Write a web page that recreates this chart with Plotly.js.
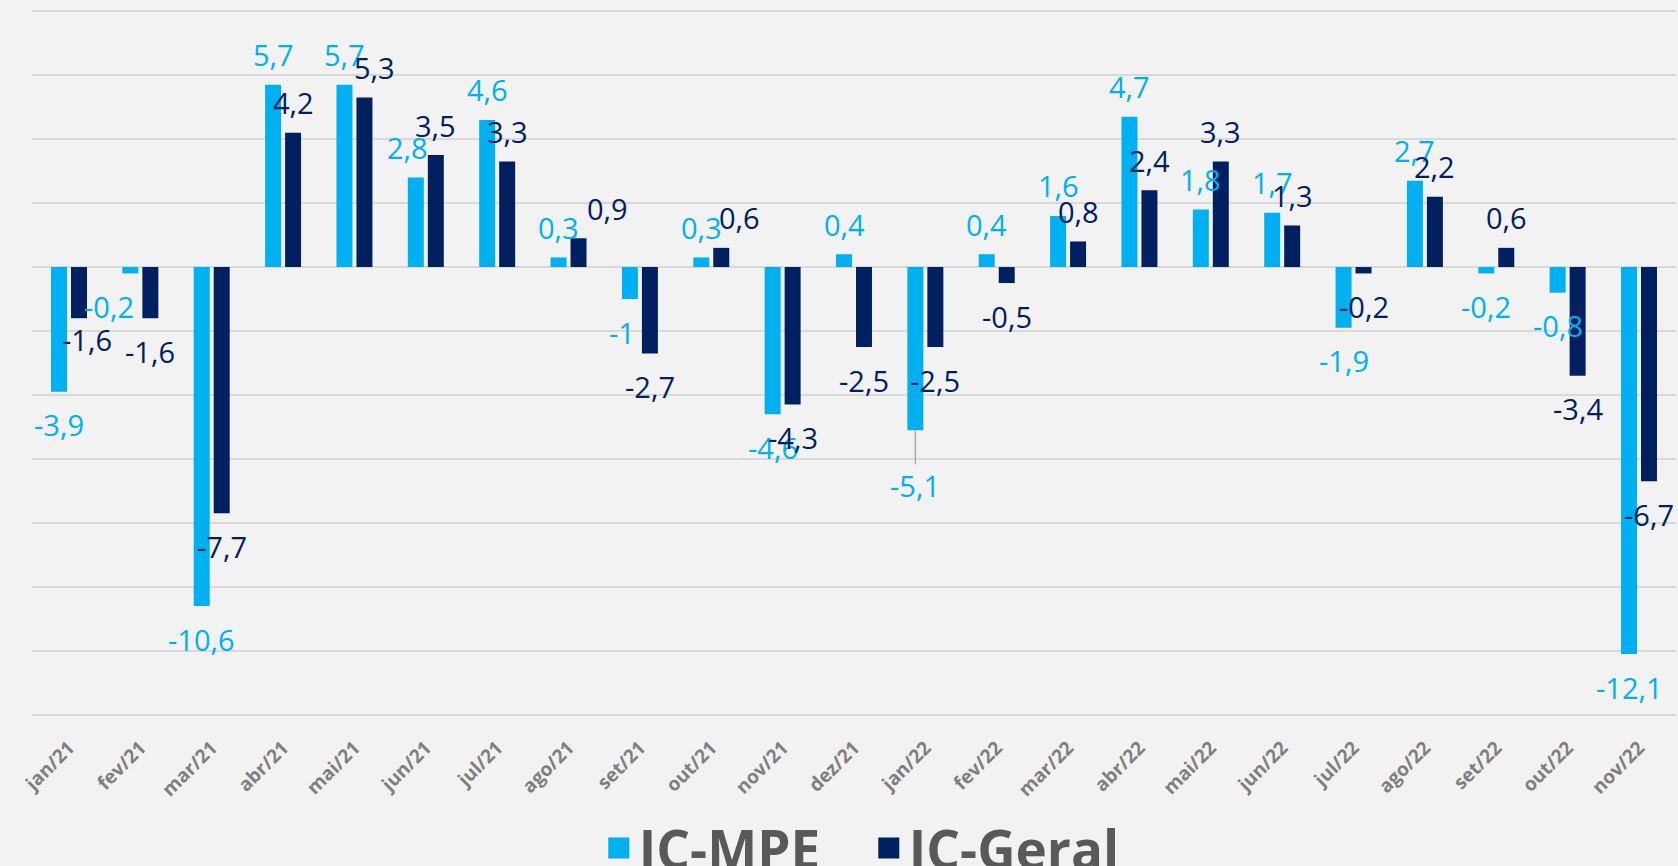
<!DOCTYPE html>
<html>
<head>
<meta charset="utf-8">
<script src="https://cdn.plot.ly/plotly-3.0.1.min.js"></script>
<style>
  html, body { margin: 0; padding: 0; background: #f2f2f2; }
  #chart { width: 1678px; height: 866px; }
</style>
</head>
<body>
<div id="chart"></div>
<script>
const categories = ["jan/21","fev/21","mar/21","abr/21","mai/21","jun/21","jul/21","ago/21","set/21","out/21","nov/21","dez/21",
                    "jan/22","fev/22","mar/22","abr/22","mai/22","jun/22","jul/22","ago/22","set/22","out/22","nov/22"];
const icMPE   = [-3.9,-0.2,-10.6,5.7,5.7,2.8,4.6,0.3,-1,0.3,-4.6,0.4,-5.1,0.4,1.6,4.7,1.8,1.7,-1.9,2.7,-0.2,-0.8,-12.1];
const icGeral = [-1.6,-1.6,-7.7,4.2,5.3,3.5,3.3,0.9,-2.7,0.6,-4.3,-2.5,-2.5,-0.5,0.8,2.4,3.3,1.3,-0.2,2.2,0.6,-3.4,-6.7];
const seriesNames = ["IC-MPE", "IC-Geral"];

// label styling nudges (pixels), by category index
const nudgeMPE   = {1: [-21, 0], 5: [-8, 0], 8: [-8, 0]};
const nudgeGeral = {0: [8, 12], 4: [10, 0], 7: [29, 0], 9: [18, 0]};
const leaderMPE  = {12: 55};

const cLight = "#00b0f0", cDark = "#002060";
const fmt = v => String(v).replace(".", ",");

const traces = [
  {type: "bar", name: seriesNames[0], x: categories, y: icMPE, marker: {color: cLight}, showlegend: false},
  {type: "bar", name: seriesNames[1], x: categories, y: icGeral, marker: {color: cDark}, showlegend: false},
  // legend keys (larger square symbols than the default bar key)
  {type: "scatter", mode: "markers", name: seriesNames[0], x: [null], y: [null],
   marker: {symbol: "square", size: 16, color: cLight, line: {width: 5, color: cLight}}},
  {type: "scatter", mode: "markers", name: seriesNames[1], x: [null], y: [null],
   marker: {symbol: "square", size: 16, color: cDark, line: {width: 5, color: cDark}}}
];

const annotations = [];
function addLabels(vals, color, baseShift, nudges, leaders) {
  vals.forEach((v, i) => {
    const n = nudges[i] || [0, 0];
    const a = {
      x: categories[i], y: v, xref: "x", yref: "y",
      text: fmt(v),
      font: {family: "Open Sans, sans-serif", size: 29, color: color},
      xshift: baseShift + n[0],
      yanchor: "middle", xanchor: "center",
      showarrow: false
    };
    if (leaders[i] !== undefined) {
      a.showarrow = true; a.arrowhead = 0; a.arrowwidth = 1.3; a.arrowcolor = "#a6a6a6";
      a.ax = 0; a.ay = leaders[i]; a.axref = "pixel"; a.ayref = "pixel";
    } else {
      a.yshift = (v >= 0 ? 30 : -33) + n[1];
    }
    annotations.push(a);
  });
}
addLabels(icMPE, cLight, -10, nudgeMPE, leaderMPE);
addLabels(icGeral, cDark, 10, nudgeGeral, {});

const layout = {
  width: 1678, height: 866,
  paper_bgcolor: "#f2f2f2", plot_bgcolor: "#f2f2f2",
  margin: {l: 32, r: 2, t: 8, b: 148, autoexpand: false},
  barmode: "group", bargap: 0.44, bargroupgap: 0.2,
  font: {family: "Open Sans, sans-serif"},
  xaxis: {
    type: "category", tickangle: -45, automargin: false, ticklabelstandoff: 14,
    tickfont: {family: "Open Sans, sans-serif", size: 19, color: "#7f7f7f", weight: "bold"},
    showgrid: false, showline: false, ticks: "", zeroline: false
  },
  yaxis: {
    range: [-14.1, 8.1], dtick: 2, tick0: 0, showticklabels: false, automargin: false,
    showgrid: true, gridcolor: "#d9d9d9", gridwidth: 1.5, zeroline: false, showline: false, ticks: ""
  },
  showlegend: true,
  legend: {
    orientation: "h", x: 0.509, xanchor: "center", y: -0.183, yanchor: "middle",
    font: {family: "Open Sans, sans-serif", size: 53, color: "#595959", weight: "bold"},
    bgcolor: "rgba(0,0,0,0)", itemwidth: 30, itemsizing: "trace", traceorder: "normal",
    entrywidth: 225
  },
  annotations: annotations
};

Plotly.newPlot("chart", traces, layout, {displayModeBar: false, staticPlot: true});
</script>
</body>
</html>
